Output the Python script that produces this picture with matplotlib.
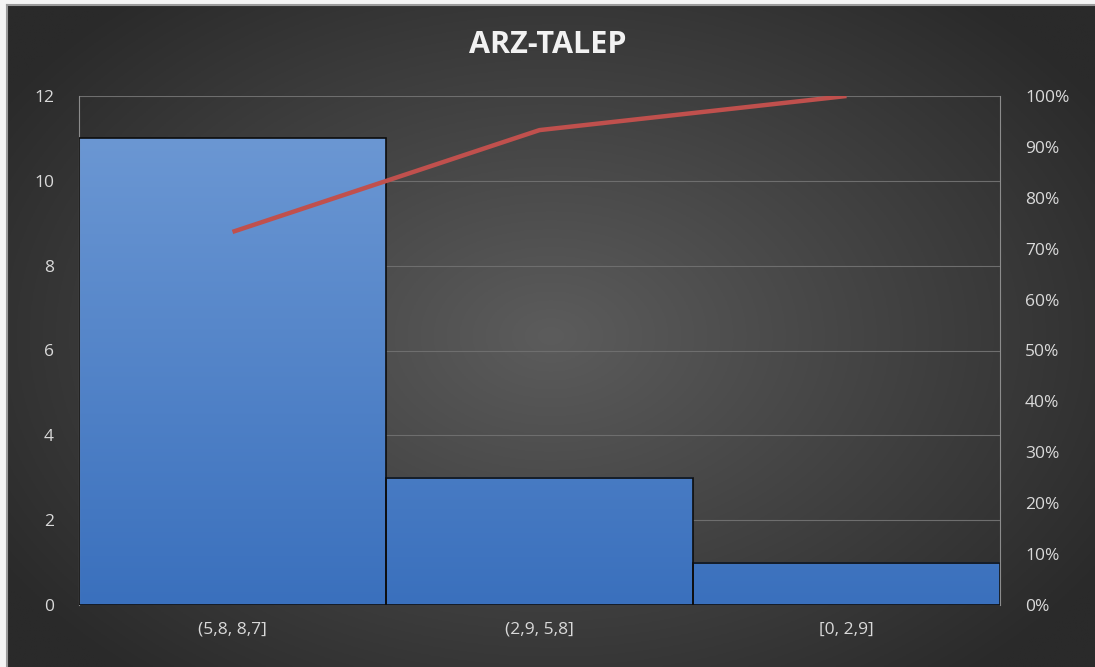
import numpy as np
import matplotlib
matplotlib.use('Agg')
import matplotlib.pyplot as plt
from matplotlib.ticker import FuncFormatter

# ── Data ──────────────────────────────────────────────────────────────────────
categories = ['(5,8, 8,7]', '(2,9, 5,8]', '[0, 2,9]']
counts = [11, 3, 1]
cumulative_pct = [73.3, 93.3, 100.0]

TITLE = 'ARZ-TALEP'
FONT = ['Open Sans', 'DejaVu Sans']
TEXT_COLOR = '#d9d9d9'

W, H = 1095, 667
fig = plt.figure(figsize=(W / 100, H / 100), dpi=100)
fig.patch.set_facecolor('#f4f4f4')

# ── Background: radial dark-grey gradient ────────────────────────────────────
bg = fig.add_axes([7 / W, 0, 1 - 7 / W, 1 - 5 / H])
yy, xx = np.mgrid[0:1:300j, 0:1:500j]
r = np.sqrt(((xx - 0.5) / 0.8) ** 2 + ((yy - 0.5) / 0.9) ** 2)
r = np.clip(r / 0.75, 0, 1)
c0 = np.array([0x5c, 0x5c, 0x5c]) / 255
c1 = np.array([0x2a, 0x2a, 0x2a]) / 255
img = c0[None, None, :] * (1 - r[..., None]) + c1[None, None, :] * r[..., None]
bg.imshow(img, aspect='auto', extent=[0, 1, 0, 1], origin='lower')
bg.set_axis_off()
bg.plot([0, 0], [0, 1], color='#9a9a9a', lw=1.5, transform=bg.transAxes, clip_on=False)
bg.plot([0, 1], [1, 1], color='#9a9a9a', lw=1.5, transform=bg.transAxes, clip_on=False)

# ── Main axes ────────────────────────────────────────────────────────────────
left, right, top, bottom = 79, 1000, 96, 605
ax = fig.add_axes([left / W, 1 - bottom / H, (right - left) / W, (bottom - top) / H])
ax.patch.set_alpha(0)

x = np.arange(len(categories))
ax.yaxis.grid(True, color='#6e6e6e', lw=0.8)
ax.set_axisbelow(True)

# bars: one shared vertical gradient from 0 up to the tallest bar
top_col = np.array([0x6b, 0x97, 0xd3]) / 255
bot_col = np.array([0x3a, 0x70, 0xbd]) / 255
vmax = max(counts)
bars = ax.bar(x, counts, width=1.0, color='none', edgecolor='#0d0d0d', lw=1.2, zorder=3)
for b in bars:
    bx, bw, bh = b.get_x(), b.get_width(), b.get_height()
    f = np.linspace(0, bh / vmax, 256)[:, None]
    g = bot_col[None, None, :] * (1 - f[..., None]) + top_col[None, None, :] * f[..., None]
    g = np.repeat(g, 2, axis=1)
    ax.imshow(g, aspect='auto', origin='lower',
              extent=[bx, bx + bw, 0, bh], zorder=2)
ax.set_xlim(-0.5, len(categories) - 0.5)
ax.set_ylim(0, 12)
ax.set_yticks(range(0, 13, 2))

ax.set_xticks(x)
ax.set_xticklabels(categories)
for s in ['top', 'right', 'bottom']:
    ax.spines[s].set_visible(False)
ax.spines['left'].set_color('#8c8c8c')
ax.tick_params(axis='both', length=0, colors=TEXT_COLOR, labelsize=12.5)
ax.tick_params(axis='y', pad=18)
ax.tick_params(axis='x', pad=12)
for lbl in ax.get_xticklabels() + ax.get_yticklabels():
    lbl.set_family(FONT)

# ── Secondary axis: cumulative % ─────────────────────────────────────────────
ax2 = ax.twinx()
ax2.set_ylim(0, 100)
ax2.set_yticks(range(0, 101, 10))
ax2.yaxis.set_major_formatter(FuncFormatter(lambda v, _: f'{v:.0f}%'))
ax2.plot(x, cumulative_pct, color='#c0504d', lw=3.2, solid_capstyle='butt', zorder=5)
for s in ['top', 'left', 'bottom']:
    ax2.spines[s].set_visible(False)
ax2.spines['right'].set_color('#8c8c8c')
ax2.tick_params(axis='y', length=0, colors=TEXT_COLOR, labelsize=12.5, pad=18)
for lbl in ax2.get_yticklabels():
    lbl.set_family(FONT)

fig.text(0.5, 1 - 45 / H, TITLE, ha='center', va='center', color='#f2f2f2',
         fontsize=22, fontweight='bold', family=FONT)

fig.savefig('out.png', dpi=100, facecolor=fig.get_facecolor())
